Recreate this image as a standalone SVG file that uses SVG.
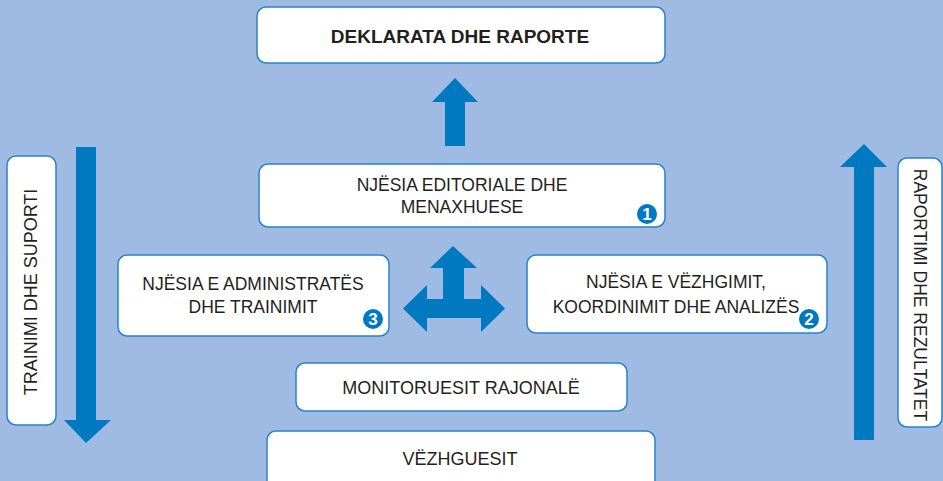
<svg xmlns="http://www.w3.org/2000/svg" width="943" height="481" viewBox="0 0 943 481">
<style>
.box{fill:#ffffff;stroke:#2a82c9;stroke-width:1.5}
.t{font-family:"Liberation Sans",Arial,sans-serif;fill:#231f20;text-anchor:middle}
.arr{fill:#0079c1}
.badge{fill:#0079c1}
.bt{font-family:"Liberation Sans",Arial,sans-serif;font-weight:bold;fill:#ffffff;text-anchor:middle;font-size:17px}
</style>
<rect x="0" y="0" width="943" height="481" fill="#9fbbe3"/>
<g id="connectors">
<polygon class="arr" points="445,146 465,146 465,102 478,102 455,78 432,102 445,102"/>
<polygon class="arr" points="453,246 477,268 464,268 464,299 481,299 481,285 505,308.5 481,332 481,318 427,318 427,332 403,308.5 427,285 427,299 443,299 443,268 430,268"/>
<polygon class="arr" points="76,147 96,147 96,420 111,420 86,443 64,420 76,420"/>
<polygon class="arr" points="854,440 874,440 874,167 887,167 864,144 840,167 854,167"/>
</g>
<g id="deklarata">
<rect class="box" x="257" y="7" width="408" height="56" rx="9"/>
<text class="t" x="460" y="43" font-size="19" font-weight="bold">DEKLARATA DHE RAPORTE</text>
</g>
<g id="editoriale">
<rect class="box" x="259" y="164" width="406" height="63" rx="9"/>
<text class="t" x="462" y="191" font-size="17.5">NJËSIA EDITORIALE DHE</text>
<text class="t" x="462" y="213" font-size="17.5">MENAXHUESE</text>
<circle class="badge" cx="647" cy="214" r="10"/>
<text class="bt" x="647" y="220">1</text>
</g>
<g id="administrates">
<rect class="box" x="118" y="255" width="271" height="81" rx="9"/>
<text class="t" x="253" y="290" font-size="17.5">NJËSIA E ADMINISTRATËS</text>
<text class="t" x="253" y="313" font-size="17.5">DHE TRAINIMIT</text>
<circle class="badge" cx="373" cy="319" r="10"/>
<text class="bt" x="373" y="325">3</text>
</g>
<g id="vezhgimit">
<rect class="box" x="527" y="255" width="300" height="78" rx="9"/>
<text class="t" x="676" y="288" font-size="17.5">NJËSIA E VËZHGIMIT,</text>
<text class="t" x="676" y="313" font-size="17.5">KOORDINIMIT DHE ANALIZËS</text>
<circle class="badge" cx="809" cy="319" r="10"/>
<text class="bt" x="809" y="325">2</text>
</g>
<g id="monitoruesit">
<rect class="box" x="296" y="363" width="331" height="48" rx="9"/>
<text class="t" x="461" y="394" font-size="18">MONITORUESIT RAJONALË</text>
</g>
<g id="vezhguesit">
<rect class="box" x="267" y="431" width="388" height="62" rx="9"/>
<text class="t" x="460" y="465" font-size="18">VËZHGUESIT</text>
</g>
<g id="trainimi">
<rect class="box" x="7" y="156" width="49" height="269" rx="9"/>
<text class="t" transform="translate(37,292) rotate(-90)" font-size="18">TRAINIMI DHE SUPORTI</text>
</g>
<g id="raportimi">
<rect class="box" x="898" y="158" width="44" height="269" rx="9"/>
<text class="t" transform="translate(914,295) rotate(90)" font-size="17.5">RAPORTIMI DHE REZULTATET</text>
</g>
</svg>
